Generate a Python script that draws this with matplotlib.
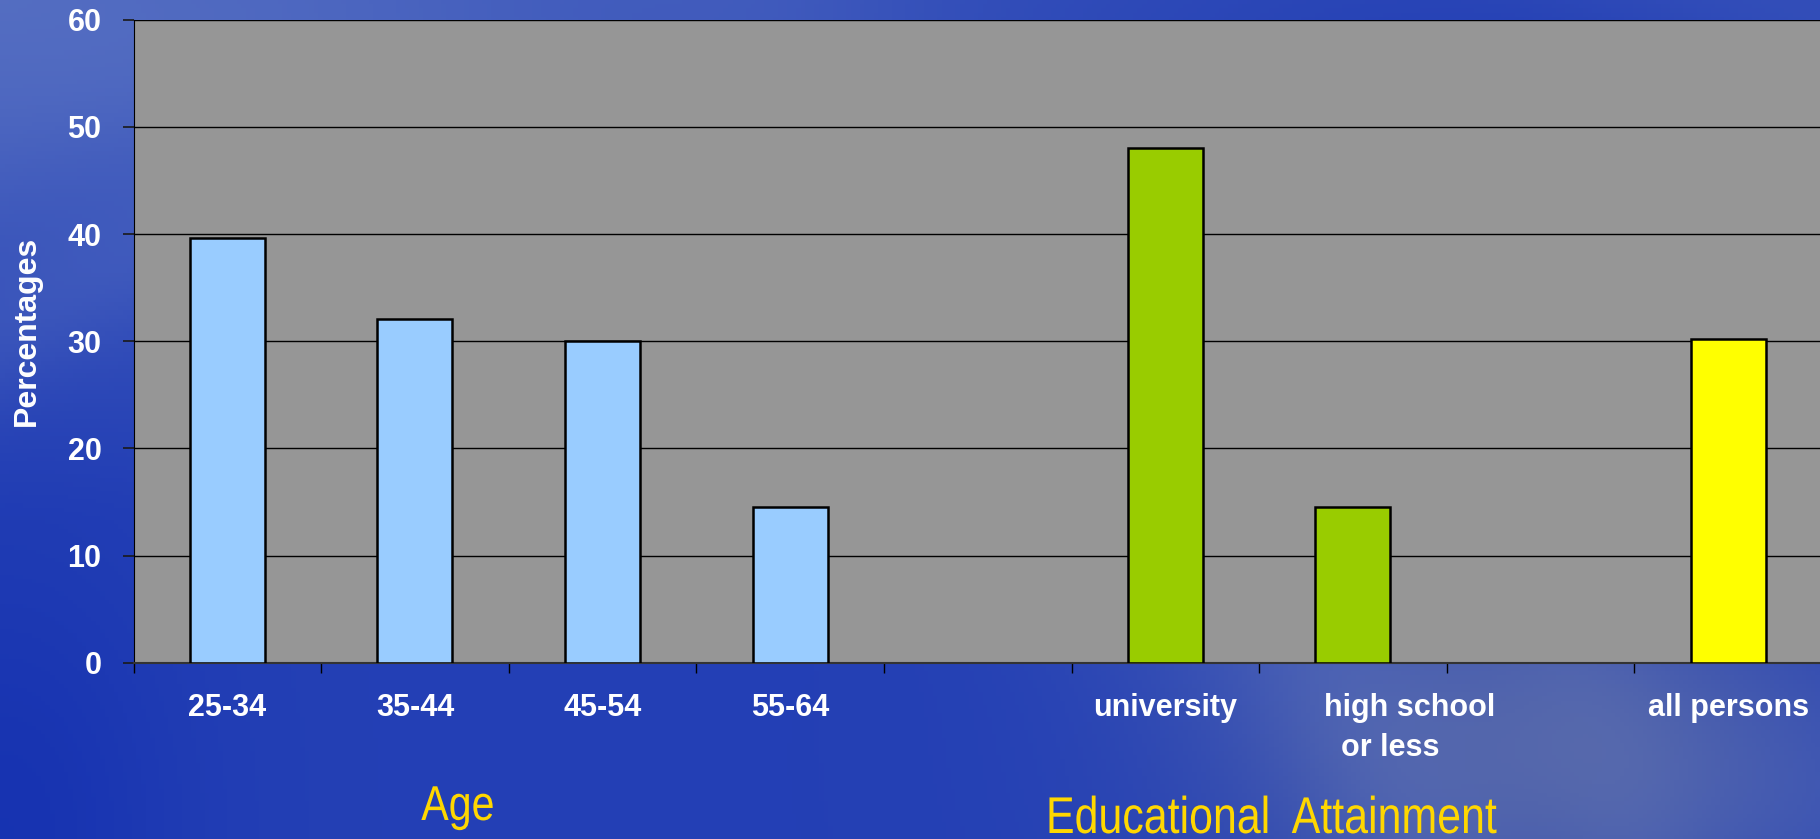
import numpy as np
import matplotlib.pyplot as plt
from matplotlib.ticker import FixedLocator
from matplotlib.textpath import TextPath
from matplotlib.patches import PathPatch
from matplotlib.font_manager import FontProperties
from matplotlib.transforms import Affine2D, IdentityTransform, ScaledTranslation

# chart data
categories = ["25-34", "35-44", "45-54", "55-64", "", "university", "high school\n  or less", "", "all persons"]
values = [39.6, 32.1, 30.0, 14.5, 0, 48.0, 14.5, 0, 30.2]
colors = ["#99ccff", "#99ccff", "#99ccff", "#99ccff", "none", "#99cc00", "#99cc00", "none", "#ffff00"]
y_ticks = [0, 10, 20, 30, 40, 50, 60]

W, H = 1820, 839
fig = plt.figure(figsize=(W / 100, H / 100), dpi=100)

# blue swirly background
bg = fig.add_axes([0, 0, 1, 1])
bg.set_axis_off()
xx, yy = np.meshgrid(np.linspace(0, 1, 400), np.linspace(0, 1, 200))
base = np.array([0.14, 0.25, 0.71])
img = np.ones((200, 400, 3)) * base
light = np.array([0.33, 0.43, 0.76])
grey = np.array([0.42, 0.47, 0.64])
# lighter top-left
w = np.clip(1 - np.hypot(xx * 1.2, yy * 1.6), 0, 1) ** 1.2
img = img * (1 - w[..., None]) + light * w[..., None]
# soft arcs
for cx, cy, r, s, a in [(0.05, 1.3, 0.75, 0.05, 0.35), (0.55, 1.5, 1.0, 0.06, 0.3),
                        (0.35, 1.1, 0.55, 0.04, 0.25), (1.1, -0.2, 0.7, 0.08, 0.25)]:
    d = np.abs(np.hypot(xx - cx, (yy - cy) * 0.6) - r)
    w = a * np.exp(-(d / s) ** 2)
    img = img * (1 - w[..., None]) + light * w[..., None]
# greyish bottom-right
w = 0.6 * np.exp(-(((xx - 0.85) / 0.18) ** 2 + ((yy - 0.9) / 0.25) ** 2))
img = img * (1 - w[..., None]) + grey * w[..., None]
# deeper blue bottom-left
w = 0.5 * np.exp(-((xx / 0.1) ** 2 + ((yy - 1) / 0.35) ** 2))
img = img * (1 - w[..., None]) + np.array([0.04, 0.15, 0.68]) * w[..., None]
bg.imshow(np.clip(img, 0, 1), aspect="auto", extent=[0, 1, 0, 1], origin="upper")

ax = fig.add_axes([133.5 / W, 1 - 662.8 / H, (1822 - 133.5) / W, (662.8 - 19.7) / H])
ax.set_facecolor("#969696")
x = np.arange(len(categories))
edges = ["black" if v > 0 else "none" for v in values]
ax.bar(x, values, width=0.4, color=colors, edgecolor=edges, linewidth=1.8, zorder=3)

ax.set_xlim(-0.5, len(categories) - 0.5)
ax.set_ylim(0, 60)
ax.set_yticks(y_ticks)
ax.yaxis.grid(True, color="black", linewidth=1.0, zorder=0)
ax.set_axisbelow(True)

ax.set_xticks(x)
ax.set_xticklabels(categories, linespacing=1.4)
ax.xaxis.set_minor_locator(FixedLocator(np.arange(-0.5, len(categories), 1.0)))
ax.tick_params(axis="x", which="major", length=0, pad=22)
ax.tick_params(axis="x", which="minor", length=7, width=1, color="black", direction="out")
ax.tick_params(axis="y", length=8, width=1.2, color="#1a1a1a", direction="out", pad=15)

for lab in ax.get_xticklabels() + ax.get_yticklabels():
    lab.set_color("white")
    lab.set_fontweight("bold")
    lab.set_fontsize(22)
    lab.set_family(["Liberation Sans", "DejaVu Sans"])

# the two-line label sits a bit right of its bar, lines left-aligned
for lab in ax.get_xticklabels():
    if "\n" in lab.get_text():
        lab.set_multialignment("left")
        lab.set_transform(lab.get_transform() + ScaledTranslation(0.57, 0, fig.dpi_scale_trans))

for side in ["top", "right"]:
    ax.spines[side].set_visible(False)
ax.spines["left"].set_color("black")
ax.spines["bottom"].set_color("#333333")
ax.spines["bottom"].set_linewidth(1.5)

fig.text(27 / W, 1 - 331 / H, "Percentages", rotation=90, color="white", fontsize=23,
         fontweight="bold", ha="center", va="center", family=["Liberation Sans", "DejaVu Sans"])


def narrow_text(cx, baseline, s, em_px, sx, color):
    # condensed text drawn as a path in pixel coordinates
    tp = TextPath((0, 0), s, size=em_px, prop=FontProperties(family="Liberation Sans"))
    bb = tp.get_extents()
    tr = Affine2D().translate(-(bb.x0 + bb.x1) / 2, 0).scale(sx, 1).translate(cx, H - baseline)
    fig.add_artist(PathPatch(tr.transform_path(tp), facecolor=color, edgecolor="none",
                             transform=IdentityTransform()))


narrow_text(457, 820, "Age", 49, 0.84, "#ffd700")
narrow_text(1273, 833, "Educational  Attainment", 51.7, 0.83, "#ffd700")

fig.savefig("out.png", dpi=100)
